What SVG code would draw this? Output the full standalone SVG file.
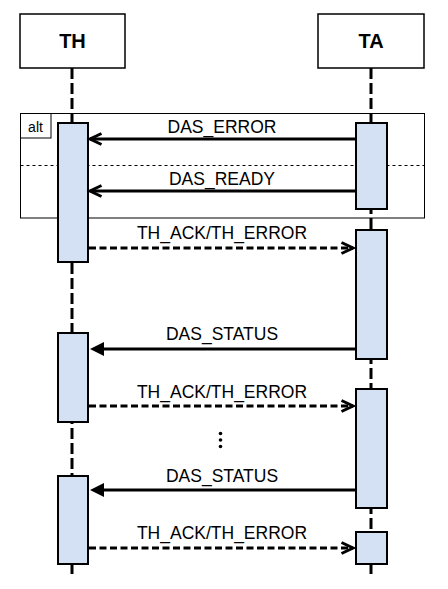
<svg xmlns="http://www.w3.org/2000/svg" width="448" height="589" viewBox="0 0 448 589">
<style>
.hdr{fill:#fff;stroke:#000;stroke-width:1.5}
.hdrt{font-family:"Liberation Sans",Arial,sans-serif;font-weight:bold;font-size:20px;text-anchor:middle;fill:#000}
.life{stroke:#000;stroke-width:3;stroke-dasharray:11 4;fill:none}
.act{fill:#D4E1F5;stroke:#000;stroke-width:2}
.lbl{font-family:"Liberation Sans",Arial,sans-serif;font-size:17.5px;text-anchor:middle;fill:#000}
.msg{stroke:#000;stroke-width:3;fill:none}
.ret{stroke:#000;stroke-width:3;fill:none;stroke-dasharray:7 3.5}
.frame{fill:none;stroke:#000;stroke-width:1}
</style>
<defs>
<marker id="open" markerUnits="userSpaceOnUse" markerWidth="18" markerHeight="18" viewBox="0 0 18 18" refX="15" refY="9" orient="auto" overflow="visible">
<path d="M3.5,3.5 L15,9 L3.5,14.5" fill="none" stroke="#000" stroke-width="3" stroke-dasharray="none"/>
</marker>
<marker id="block" markerUnits="userSpaceOnUse" markerWidth="16" markerHeight="16" viewBox="0 0 16 16" refX="0" refY="8" orient="auto" overflow="visible">
<path d="M0,1 L14,8 L0,15 Z" fill="#000" stroke="none"/>
</marker>
</defs>
<rect x="0" y="0" width="448" height="589" fill="#fff"/>

<g id="frame-alt">
<rect class="frame" x="20.5" y="113.5" width="404" height="104.5"/>
<rect class="frame" x="20.5" y="113.5" width="30.5" height="24.5"/>
<text x="35.5" y="131.5" font-family="Liberation Sans,Arial,sans-serif" font-size="14" text-anchor="middle">alt</text>
<line x1="20.5" y1="165.5" x2="424.5" y2="165.5" stroke="#000" stroke-width="1" stroke-dasharray="3 3"/>
</g>

<g id="TH">
<rect class="hdr" x="20" y="14" width="105" height="54"/>
<text class="hdrt" x="72.5" y="48">TH</text>
<line class="life" x1="72" y1="68" x2="72" y2="578"/>
</g>
<g id="TA">
<rect class="hdr" x="318" y="14" width="106" height="54"/>
<text class="hdrt" x="371" y="48">TA</text>
<line class="life" x1="371" y1="68" x2="371" y2="578"/>
</g>

<g id="activations">
<rect class="act" x="58" y="123" width="30" height="139"/>
<rect class="act" x="356" y="123" width="31" height="86"/>
<rect class="act" x="356" y="230" width="31" height="129"/>
<rect class="act" x="58" y="333" width="30" height="89"/>
<rect class="act" x="356" y="389" width="31" height="119"/>
<rect class="act" x="58" y="476" width="30" height="88"/>
<rect class="act" x="356" y="532" width="31" height="32"/>
</g>

<g id="connectors">
<line class="msg" x1="355" y1="139" x2="90" y2="139" marker-end="url(#open)"/>
<line class="msg" x1="355" y1="191" x2="90" y2="191" marker-end="url(#open)"/>
<line class="ret" x1="89" y1="248" x2="353" y2="248" marker-end="url(#open)"/>
<line class="msg" x1="355" y1="349" x2="104" y2="349" marker-end="url(#block)"/>
<line class="ret" x1="89" y1="406" x2="353" y2="406" marker-end="url(#open)"/>
<line class="msg" x1="355" y1="490" x2="104" y2="490" marker-end="url(#block)"/>
<line class="ret" x1="89" y1="548" x2="353" y2="548" marker-end="url(#open)"/>
</g>

<g id="labels">
<text class="lbl" x="222" y="133">DAS_ERROR</text>
<text class="lbl" x="222" y="185">DAS_READY</text>
<text class="lbl" x="222" y="239">TH_ACK/TH_ERROR</text>
<text class="lbl" x="222" y="340">DAS_STATUS</text>
<text class="lbl" x="222" y="398">TH_ACK/TH_ERROR</text>
<text class="lbl" x="222" y="482">DAS_STATUS</text>
<text class="lbl" x="222" y="539">TH_ACK/TH_ERROR</text>
</g>

<g id="ellipsis">
<circle cx="220.5" cy="433.5" r="1.8"/>
<circle cx="220.5" cy="440" r="1.8"/>
<circle cx="220.5" cy="446.5" r="1.8"/>
</g>
</svg>
